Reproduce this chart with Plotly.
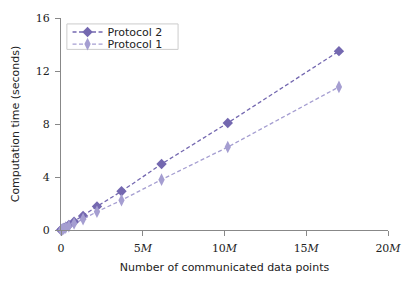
import plotly.graph_objects as go

# data (millions of data points, seconds)
x_points = [0.0, 0.06, 0.1, 0.17, 0.29, 0.48, 0.8, 1.35, 2.2, 3.7, 6.15, 10.2, 17.0]
protocol2 = [0.0, 0.05, 0.08, 0.14, 0.23, 0.38, 0.63, 1.06, 1.78, 2.92, 4.98, 8.08, 13.5]
protocol1 = [0.0, 0.04, 0.06, 0.1, 0.18, 0.29, 0.49, 0.82, 1.38, 2.25, 3.8, 6.26, 10.8]

x_ticks = [0, 5, 10, 15, 20]
x_tick_labels = ["0", "5<i>M</i>", "10<i>M</i>", "15<i>M</i>", "20<i>M</i>"]
y_ticks = [0, 4, 8, 12, 16]

c2 = "#7468b0"
c1 = "#a59ed1"

fig = go.Figure()
fig.add_trace(go.Scatter(
    x=x_points, y=protocol2, name="Protocol 2", mode="lines+markers",
    line=dict(color=c2, width=1.3, dash="4px,2.5px"),
    marker=dict(symbol="diamond", size=8, color=c2),
    legend="legend",
))
fig.add_trace(go.Scatter(
    x=x_points, y=protocol1, name="Protocol 1", mode="lines+markers",
    line=dict(color=c1, width=1.3, dash="4px,2.5px"),
    marker=dict(symbol="diamond-tall", size=9, color=c1),
    legend="legend2",
))

serif = "DejaVu Serif, serif"
sans = "DejaVu Sans, sans-serif"
legend_font = dict(family=sans, size=11, color="#222222")

fig.update_layout(
    width=415, height=287,
    margin=dict(l=61, r=27, t=18, b=57),
    plot_bgcolor="white", paper_bgcolor="white",
    showlegend=True,
    legend=dict(
        x=0.02, y=0.934, xanchor="left", yanchor="middle",
        bgcolor="rgba(0,0,0,0)", borderwidth=0,
        font=legend_font, itemwidth=30,
    ),
    legend2=dict(
        x=0.02, y=0.877, xanchor="left", yanchor="middle",
        bgcolor="rgba(0,0,0,0)", borderwidth=0,
        font=legend_font, itemwidth=30,
    ),
    shapes=[dict(
        type="rect", xref="paper", yref="paper",
        x0=0.018, x1=0.358, y0=0.852, y1=0.972,
        line=dict(color="#cccccc", width=1), fillcolor="white", layer="below",
    )],
    xaxis=dict(
        range=[0, 20], tickvals=x_ticks, ticktext=x_tick_labels,
        showgrid=False, zeroline=False, showline=True, linecolor="#888888", linewidth=1,
        ticks="outside", ticklen=5, tickcolor="#888888", ticklabelstandoff=3,
        tickfont=dict(family=serif, size=11, color="#222222"),
        title=dict(text="Number of communicated data points", font=dict(family=sans, size=11, color="#222222"), standoff=9),
    ),
    yaxis=dict(
        range=[0, 16], tickvals=y_ticks,
        showgrid=False, zeroline=False, showline=True, linecolor="#888888", linewidth=1,
        ticks="outside", ticklen=5, tickcolor="#888888", ticklabelstandoff=3,
        tickfont=dict(family=serif, size=11, color="#222222"),
        title=dict(text="Computation time (seconds)", font=dict(family=sans, size=11, color="#222222"), standoff=13),
    ),
)
fig.update_traces(cliponaxis=False)

fig.write_html("out.html", config={"displayModeBar": False},
               post_script="document.body.style.margin='0';")
